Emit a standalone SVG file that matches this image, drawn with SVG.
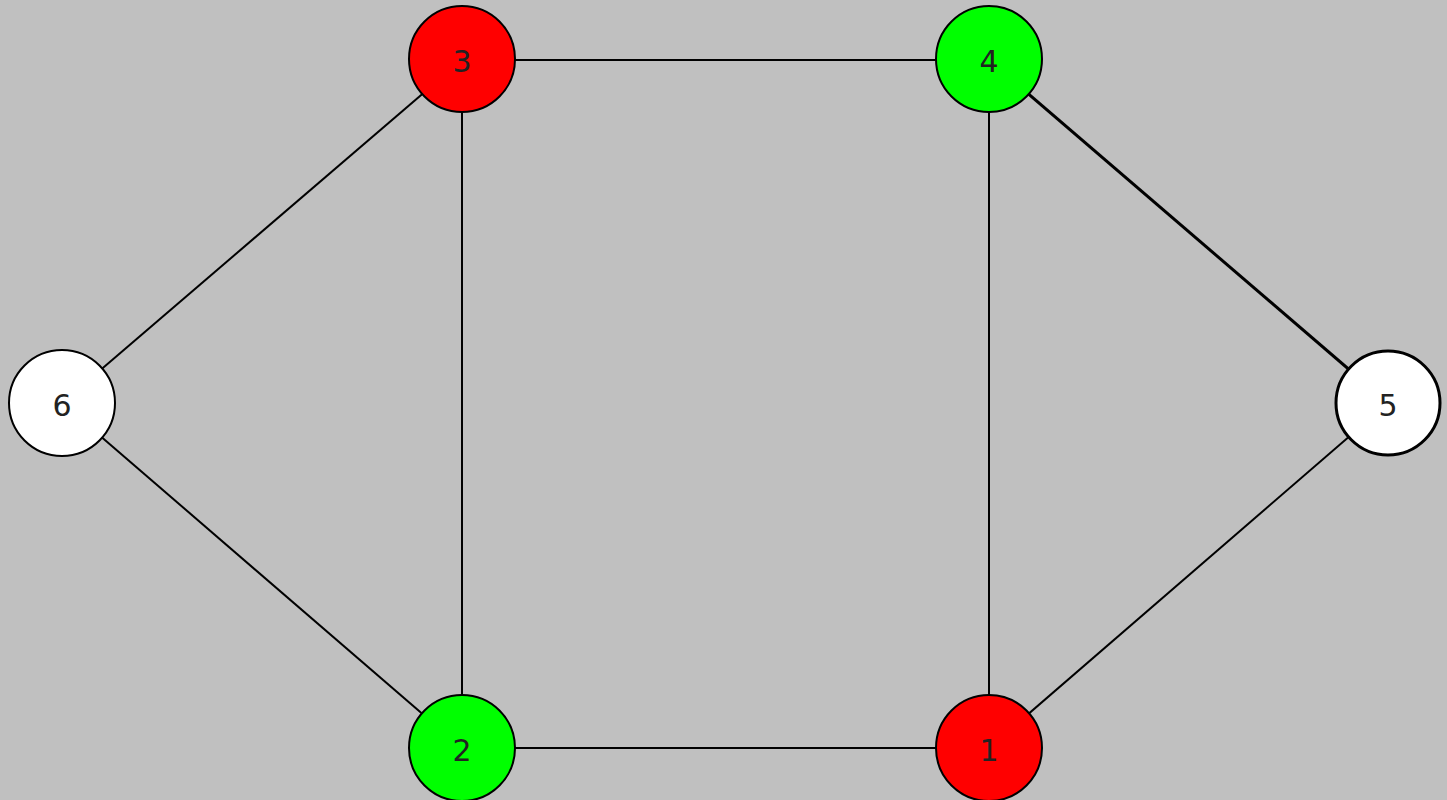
<svg xmlns="http://www.w3.org/2000/svg" width="1447" height="800" viewBox="0 0 1447 800">
<style>
.e{stroke:#000;stroke-width:2;fill:none}
.n{stroke:#000;stroke-width:2}
.t{font-family:"DejaVu Sans","Liberation Sans",sans-serif;font-size:30px;text-anchor:middle;dominant-baseline:central;fill:#222}
</style>
<rect width="1447" height="800" fill="#c0c0c0"/>
<g id="edges">
<line class="e" x1="462" y1="60" x2="989" y2="60"/>
<line class="e" x1="462" y1="60" x2="462" y2="748"/>
<line class="e" x1="989" y1="60" x2="989" y2="748"/>
<line class="e" x1="462" y1="748" x2="989" y2="748"/>
<line class="e" x1="62" y1="403" x2="462" y2="60"/>
<line class="e" x1="62" y1="403" x2="462" y2="748"/>
<line class="e" x1="989" y1="60" x2="1388" y2="403" style="stroke-width:3"/>
<line class="e" x1="1388" y1="403" x2="989" y2="748"/>
</g>
<g id="node3"><circle class="n" cx="462" cy="59" r="53" fill="#ff0000"/><text class="t" x="462" y="61" fill="#600">3</text></g>
<g id="node4"><circle class="n" cx="989" cy="59" r="53" fill="#00ff00"/><text class="t" x="989" y="61">4</text></g>
<g id="node6"><circle class="n" cx="62" cy="403" r="53" fill="#ffffff"/><text class="t" x="62" y="405">6</text></g>
<g id="node5"><circle class="n" cx="1388" cy="403" r="52" fill="#ffffff" style="stroke-width:3"/><text class="t" x="1388" y="405">5</text></g>
<g id="node2"><circle class="n" cx="462" cy="748" r="53" fill="#00ff00"/><text class="t" x="462" y="750">2</text></g>
<g id="node1"><circle class="n" cx="989" cy="748" r="53" fill="#ff0000"/><text class="t" x="989" y="750">1</text></g>
</svg>
